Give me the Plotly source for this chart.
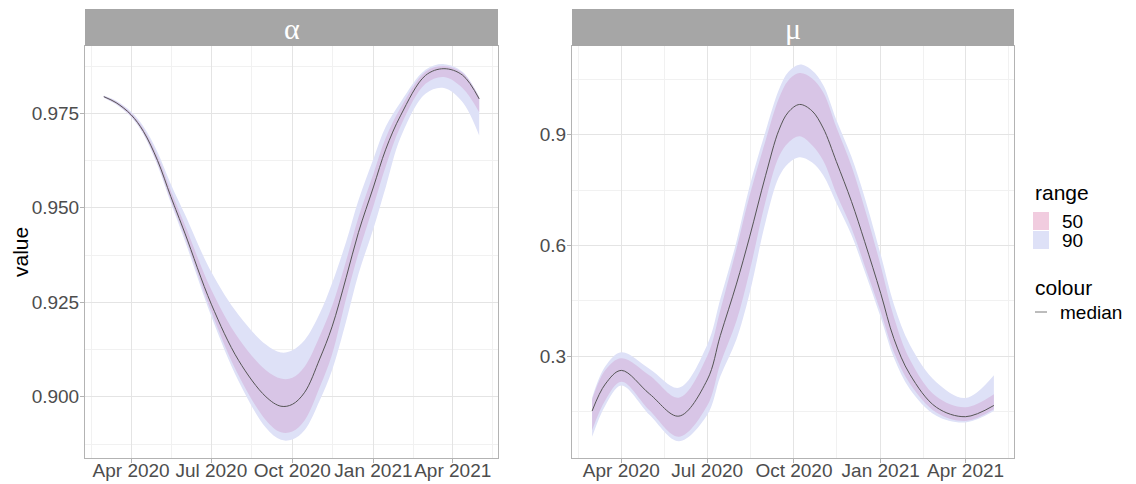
import plotly.graph_objects as go

W, H = 1136, 484

# ---------------- data ----------------
alpha_dates = ["2020-03-01", "2020-03-15", "2020-04-01", "2020-04-15", "2020-05-01",
               "2020-05-16", "2020-06-01", "2020-07-01", "2020-08-01", "2020-09-01",
               "2020-09-18", "2020-10-01", "2020-10-15", "2020-11-01", "2020-11-15",
               "2020-12-01", "2020-12-15", "2021-01-01", "2021-01-15", "2021-02-01",
               "2021-03-01", "2021-03-22", "2021-04-12", "2021-05-01"]
alpha_median = [0.9794, 0.9778, 0.9746, 0.9702, 0.9625, 0.9530, 0.9433, 0.9245, 0.9096,
                0.9000, 0.8975, 0.8980, 0.9012, 0.9100, 0.9185, 0.9315, 0.9435, 0.9555,
                0.9655, 0.9745, 0.9850, 0.9868, 0.9851, 0.9788]
alpha_hi90 = [0.9797, 0.9783, 0.9754, 0.9715, 0.9647, 0.9563, 0.9483, 0.9330, 0.9216,
              0.9138, 0.9117, 0.9123, 0.9150, 0.9220, 0.9300, 0.9410, 0.9520, 0.9630,
              0.9715, 0.9780, 0.9865, 0.9880, 0.9860, 0.9793]
alpha_hi50 = [0.9796, 0.9781, 0.9750, 0.9709, 0.9636, 0.9546, 0.9455, 0.9283, 0.9154,
              0.9070, 0.9048, 0.9050, 0.9080, 0.9160, 0.9240, 0.9360, 0.9475, 0.9590,
              0.9685, 0.9765, 0.9860, 0.9875, 0.9857, 0.9792]
alpha_lo50 = [0.9792, 0.9775, 0.9742, 0.9697, 0.9617, 0.9520, 0.9423, 0.9225, 0.9056,
              0.8938, 0.8906, 0.8908, 0.8938, 0.9025, 0.9112, 0.9260, 0.9380, 0.9505,
              0.9610, 0.9717, 0.9828, 0.9846, 0.9817, 0.9753]
alpha_lo90 = [0.9791, 0.9773, 0.9740, 0.9694, 0.9612, 0.9513, 0.9413, 0.9213, 0.9041,
              0.8918, 0.8886, 0.8887, 0.8912, 0.8990, 0.9070, 0.9200, 0.9325, 0.9445,
              0.9555, 0.9687, 0.9802, 0.9817, 0.9780, 0.9691]

mu_dates = ["2020-03-01", "2020-03-15", "2020-04-01", "2020-05-01", "2020-06-01",
            "2020-07-01", "2020-07-15", "2020-08-01", "2020-08-15", "2020-09-01",
            "2020-09-15", "2020-09-25", "2020-10-07", "2020-10-20", "2020-11-01",
            "2020-11-15", "2020-12-01", "2020-12-15", "2021-01-01", "2021-01-15",
            "2021-02-01", "2021-03-01", "2021-04-01", "2021-05-01"]
mu_median = [0.151, 0.224, 0.261, 0.197, 0.137, 0.235, 0.356, 0.495, 0.623, 0.790, 0.912,
             0.961, 0.982, 0.965, 0.918, 0.827, 0.719, 0.610, 0.470, 0.347, 0.250, 0.161,
             0.1355, 0.166]
mu_hi90 = [0.187, 0.272, 0.310, 0.265, 0.214, 0.330, 0.455, 0.610, 0.760, 0.910, 1.022,
           1.070, 1.090, 1.075, 1.035, 0.940, 0.840, 0.730, 0.575, 0.440, 0.330, 0.229,
           0.186, 0.248]
mu_hi50 = [0.182, 0.262, 0.294, 0.247, 0.187, 0.300, 0.425, 0.590, 0.735, 0.885, 0.998,
           1.047, 1.067, 1.053, 1.015, 0.920, 0.815, 0.700, 0.545, 0.405, 0.290, 0.190,
           0.161, 0.196]
mu_lo50 = [0.099, 0.180, 0.230, 0.152, 0.081, 0.165, 0.280, 0.395, 0.530, 0.720, 0.840,
           0.878, 0.8955, 0.872, 0.830, 0.740, 0.647, 0.545, 0.420, 0.310, 0.225, 0.147,
           0.124, 0.156]
mu_lo90 = [0.081, 0.166, 0.220, 0.140, 0.069, 0.140, 0.245, 0.345, 0.470, 0.665, 0.785,
           0.822, 0.839, 0.825, 0.790, 0.715, 0.628, 0.530, 0.405, 0.295, 0.210, 0.138,
           0.120, 0.151]

x_tick_vals = ["2020-04-01", "2020-07-01", "2020-10-01", "2021-01-01", "2021-04-01"]
x_tick_text = ["Apr 2020", "Jul 2020", "Oct 2020", "Jan 2021", "Apr 2021"]
x_minor_vals = ["2020-02-15 12:00", "2020-05-16 12:00", "2020-08-16", "2020-11-15 12:00",
                "2021-02-15", "2021-05-16 12:00"]
alpha_ticks = [0.900, 0.925, 0.950, 0.975]
alpha_minor = [0.8875, 0.9125, 0.9375, 0.9625, 0.9875]
mu_ticks = [0.3, 0.6, 0.9]
mu_minor = [0.15, 0.45, 0.75, 1.05]
panel_titles = ["α", "μ"]
legend_range = ["50", "90"]
legend_colour = ["median"]

# ---------------- styles ----------------
C90 = "#DEE1F7"
C50_OVER = "#D8C5E6"
C50_KEY = "#F1CCDF"
C_MED = "#555555"
GRID = "#E4E4E4"
GRID_MINOR = "#F1F1F1"
BORDER = "#B3B3B3"
STRIP = "#A6A6A6"
FONT = "Liberation Sans, Arial, sans-serif"
TICK_SIZE = 19

fig = go.Figure()


def add_panel(xs, med, lo90, hi90, lo50, hi50, xa, ya):
    common = dict(x=xs, xaxis=xa, yaxis=ya, mode="lines", hoverinfo="skip",
                  showlegend=False)
    fig.add_trace(go.Scatter(y=lo90, line=dict(width=0, shape="spline", color=C90), **common))
    fig.add_trace(go.Scatter(y=hi90, line=dict(width=0, shape="spline", color=C90),
                             fill="tonexty", fillcolor=C90, **common))
    fig.add_trace(go.Scatter(y=lo50, line=dict(width=0, shape="spline", color=C50_OVER), **common))
    fig.add_trace(go.Scatter(y=hi50, line=dict(width=0, shape="spline", color=C50_OVER),
                             fill="tonexty", fillcolor=C50_OVER, **common))
    fig.add_trace(go.Scatter(y=med, line=dict(width=1, shape="spline", color=C_MED), **common))


add_panel(alpha_dates, alpha_median, alpha_lo90, alpha_hi90, alpha_lo50, alpha_hi50, "x", "y")
add_panel(mu_dates, mu_median, mu_lo90, mu_hi90, mu_lo50, mu_hi50, "x2", "y2")

# panel geometry (pixels)
P1 = (85, 498)
P2 = (572, 1014)
TOP, BOT = 46, 458
STRIP_TOP = 9


def px_x(p):
    return p / W


def px_y(p):
    return 1 - p / H


xcommon = dict(type="date", range=["2020-02-08 16:00", "2021-05-22 08:00"],
               tickmode="array", tickvals=x_tick_vals, ticktext=x_tick_text,
               tickangle=0,
               showgrid=True, gridcolor=GRID, gridwidth=1, zeroline=False,
               showline=True, mirror=True, linecolor=BORDER, linewidth=1,
               ticks="outside", ticklen=4, tickcolor=BORDER, tickwidth=1,
               automargin=False, ticklabelstandoff=-9,
               tickfont=dict(family=FONT, size=TICK_SIZE, color="#4D4D4D"),
               minor=dict(tickmode="array", tickvals=x_minor_vals, showgrid=True,
                          gridcolor=GRID_MINOR, gridwidth=1, ticks=""))
ycommon = dict(showgrid=True, gridcolor=GRID, gridwidth=1, zeroline=False,
               showline=True, mirror=True, linecolor=BORDER, linewidth=1,
               ticks="outside", ticklen=4, tickcolor=BORDER, tickwidth=1,
               automargin=False, ticklabelstandoff=-3,
               tickfont=dict(family=FONT, size=TICK_SIZE, color="#4D4D4D"),
               domain=[px_y(BOT), px_y(TOP)])

fig.update_layout(
    width=W, height=H, margin=dict(l=0, r=0, t=0, b=0),
    paper_bgcolor="white", plot_bgcolor="white", showlegend=False,
    xaxis=dict(domain=[px_x(P1[0]), px_x(P1[1])], anchor="y", **xcommon),
    xaxis2=dict(domain=[px_x(P2[0]), px_x(P2[1])], anchor="y2", **xcommon),
    yaxis=dict(anchor="x", range=[0.8838, 0.9928], tickmode="array",
               tickvals=alpha_ticks, ticktext=[f"{v:.3f}" for v in alpha_ticks],
               minor=dict(tickmode="array", tickvals=alpha_minor, showgrid=True,
                          gridcolor=GRID_MINOR, gridwidth=1, ticks=""),
               **ycommon),
    yaxis2=dict(anchor="x2", range=[0.0235, 1.1405], tickmode="array",
                tickvals=mu_ticks, ticktext=[f"{v:.1f}" for v in mu_ticks],
                minor=dict(tickmode="array", tickvals=mu_minor, showgrid=True,
                           gridcolor=GRID_MINOR, gridwidth=1, ticks=""),
                **ycommon),
)

shapes = []
annotations = []
for (x0, x1), title in zip([P1, P2], panel_titles):
    shapes.append(dict(type="rect", xref="paper", yref="paper",
                       x0=px_x(x0), x1=px_x(x1), y0=px_y(TOP), y1=px_y(STRIP_TOP),
                       fillcolor=STRIP, line=dict(width=0), layer="above"))
    annotations.append(dict(xref="paper", yref="paper", x=px_x((x0 + x1) / 2),
                            y=px_y((TOP + STRIP_TOP) / 2 + 1), text=title, showarrow=False,
                            xanchor="center", yanchor="middle",
                            font=dict(family="Liberation Serif, DejaVu Serif, serif",
                                      size=30, color="white")))

# y axis title
annotations.append(dict(xref="paper", yref="paper", x=px_x(20), y=px_y((TOP + BOT) / 2),
                        text="value", textangle=-90, showarrow=False,
                        xanchor="center", yanchor="middle",
                        font=dict(family=FONT, size=21, color="black")))

# legend (drawn manually)
LX = 1033
annotations.append(dict(xref="paper", yref="paper", x=px_x(LX), y=px_y(193), text="range",
                        showarrow=False, xanchor="left", yanchor="middle",
                        font=dict(family=FONT, size=21, color="black")))
for i, (lab, col) in enumerate(zip(legend_range, [C50_KEY, C90])):
    y0 = 212 + i * 19
    shapes.append(dict(type="rect", xref="paper", yref="paper",
                       x0=px_x(LX), x1=px_x(LX + 16), y0=px_y(y0 + 18), y1=px_y(y0),
                       fillcolor=col, line=dict(width=0)))
    annotations.append(dict(xref="paper", yref="paper", x=px_x(LX + 27), y=px_y(y0 + 9),
                            text=lab, showarrow=False, xanchor="left", yanchor="middle",
                            font=dict(family=FONT, size=19, color="black")))
annotations.append(dict(xref="paper", yref="paper", x=px_x(LX), y=px_y(287), text="colour",
                        showarrow=False, xanchor="left", yanchor="middle",
                        font=dict(family=FONT, size=21, color="black")))
shapes.append(dict(type="line", xref="paper", yref="paper", x0=px_x(LX + 2),
                   x1=px_x(LX + 14), y0=px_y(312), y1=px_y(312),
                   line=dict(color="#7A7A7A", width=1)))
annotations.append(dict(xref="paper", yref="paper", x=px_x(LX + 25), y=px_y(312),
                        text=legend_colour[0], showarrow=False, xanchor="left",
                        yanchor="middle", font=dict(family=FONT, size=19, color="black")))

fig.update_layout(shapes=shapes, annotations=annotations)
fig.write_html("out.html")
